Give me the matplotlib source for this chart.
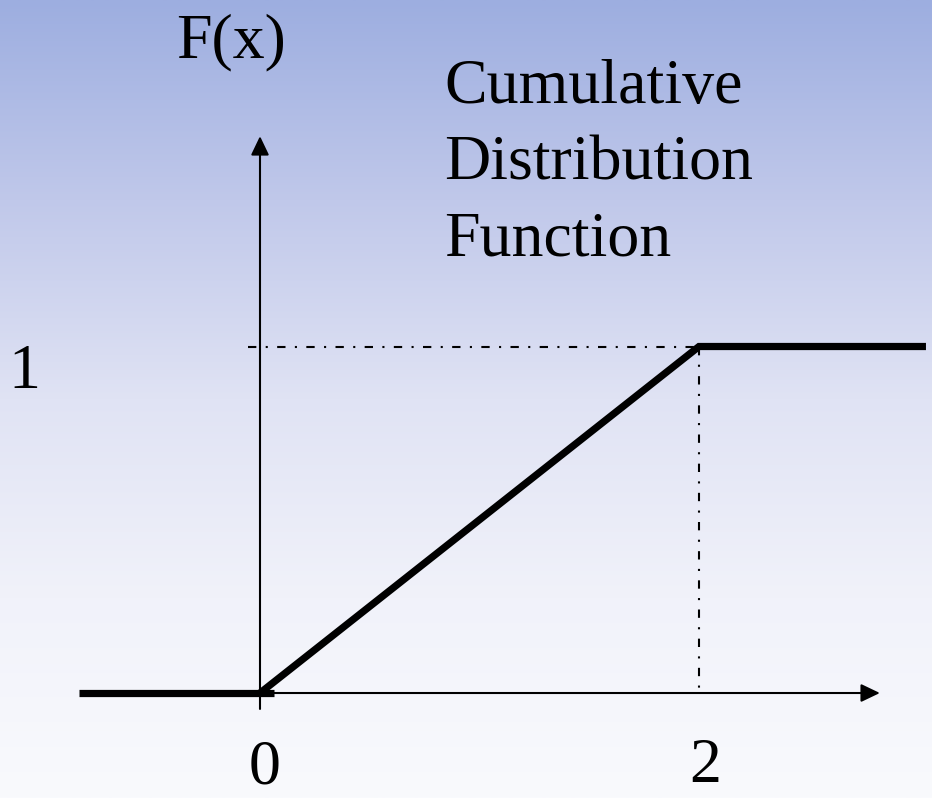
import numpy as np
import matplotlib
matplotlib.use('Agg')
import matplotlib.pyplot as plt

# CDF of a uniform variable on [0, 2]
left_x = [-0.825, 0.065]
left_y = [0, 0]
cdf_x = [0, 2, 3.034]
cdf_y = [0, 1, 1]

x_ticks = [0, 2]
x_tick_labels = ['0', '2']
y_ticks = [1]
y_tick_labels = ['1']

title_lines = ['Cumulative', 'Distribution', 'Function']

plt.rcParams['font.family'] = ['Liberation Serif', 'DejaVu Serif']

fig = plt.figure(figsize=(9.32, 7.98), dpi=100)
ax = fig.add_axes([0, 0, 1, 1])
ax.set_xlim(-1.1845, 3.0615)
ax.set_ylim(-0.303, 2.0)
ax.axis('off')

# background gradient, blue at top to near white at bottom
stops = [0.0, 0.25, 0.5, 0.75, 1.0]
cols = np.array([[157, 174, 224], [192, 200, 234], [224, 227, 244],
                 [241, 242, 250], [249, 250, 253]]) / 255.0
t = np.linspace(0, 1, 400)
grad = np.stack([np.interp(t, stops, cols[:, k]) for k in range(3)], axis=1)
grad = grad[:, None, :]
ax.imshow(grad, extent=[-1.1845, 3.0615, -0.303, 2.0], aspect='auto',
          zorder=0, interpolation='bilinear')

# axes with arrow heads
arrow = dict(arrowstyle='-|>,head_length=1.15,head_width=0.55', lw=1.5,
             color='black', shrinkA=0, shrinkB=0, mutation_scale=10)
ax.annotate('', xy=(0, 1.607), xytext=(0, -0.046), arrowprops=arrow, zorder=2)
ax.annotate('', xy=(2.824, 0), xytext=(0, 0), arrowprops=arrow, zorder=2)

# dash-dot guides
dd = (0, (4, 4.5, 1, 4.5))
ax.plot([-0.055, 2], [1, 1], color='black', lw=1.5, linestyle=dd, zorder=2)
ax.plot([2, 2], [1, 0.012], color='black', lw=1.5, linestyle=dd, zorder=2)

# the CDF
ax.plot(left_x, left_y, color='black', lw=5.2, solid_capstyle='butt', zorder=3)
ax.plot(cdf_x, cdf_y, color='black', lw=5.2, solid_capstyle='butt',
        solid_joinstyle='miter', zorder=3)

fs = 46
ax.text(x_ticks[0] + 0.023, -0.262, x_tick_labels[0], fontsize=fs,
        ha='center', va='baseline')
ax.text(x_ticks[1] + 0.027, -0.257, x_tick_labels[1], fontsize=fs,
        ha='center', va='baseline')
ax.text(-1.075, y_ticks[0] - 0.12, y_tick_labels[0], fontsize=fs,
        ha='center', va='baseline')

ax.text(-0.38, 1.835, 'F(x)', fontsize=fs, ha='left', va='baseline')
for i, line in enumerate(title_lines):
    ax.text(0.84, 1.703 - i * 0.22, line, fontsize=fs, ha='left',
            va='baseline')

fig.savefig('out.png', dpi=100)
